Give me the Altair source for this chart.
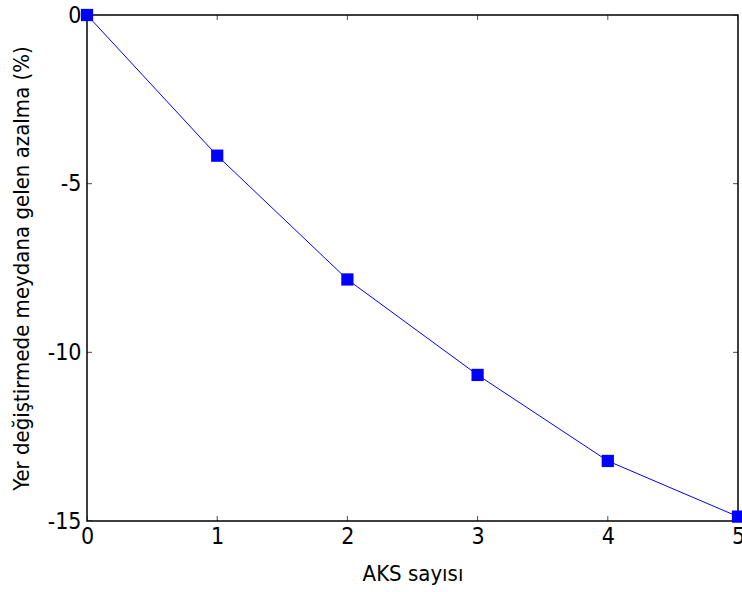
import altair as alt
import pandas as pd

aks = [0, 1, 2, 3, 4, 5]
azalma = [0, -4.17, -7.84, -10.67, -13.22, -14.87]
x_ticks = [0, 1, 2, 3, 4, 5]
y_ticks = [0, -5, -10, -15]

FONT = "DejaVu Sans Condensed"

df = pd.DataFrame({"aks": aks, "azalma": azalma})

xscale = alt.Scale(domain=[0, 5], nice=False, zero=False)
yscale = alt.Scale(domain=[-15, 0], nice=False, zero=False)

xaxis = alt.Axis(values=x_ticks, labelExpr="toString(datum.value)", tickSize=0, domain=False, grid=False,
                 labelFontSize=23, labelPadding=4, labelColor="black", labelFont=FONT,
                 title="AKS sayısı", titleFontSize=22, titleFontWeight="normal",
                 titleFont=FONT, titleColor="black", titleBaseline="alphabetic",
                 titleY=59, labelFlush=False)
yaxis = alt.Axis(values=y_ticks, labelExpr="toString(datum.value)", tickSize=0, domain=False, grid=False,
                 labelFontSize=23, labelPadding=6, labelColor="black", labelFont=FONT,
                 title="Yer değiştirmede meydana gelen azalma (%)", titleFontSize=22,
                 titleFontWeight="normal", titleFont=FONT, titleColor="black",
                 titleBaseline="alphabetic", titleX=-59, titleY=253, titleAngle=-90,
                 titleAlign="center", labelFlush=False)

base = alt.Chart(df)

line = base.mark_line(color="#0000ff", strokeWidth=1).encode(
    x=alt.X("aks:Q", scale=xscale, axis=xaxis),
    y=alt.Y("azalma:Q", scale=yscale, axis=yaxis),
)
pts = base.mark_square(color="#0000ff", size=150, opacity=1).encode(
    x=alt.X("aks:Q", scale=xscale),
    y=alt.Y("azalma:Q", scale=yscale),
)

xt = pd.DataFrame({"v": x_ticks})
yt = pd.DataFrame({"v": y_ticks})

xt_bottom = alt.Chart(xt).mark_tick(orient="vertical", size=10, thickness=1, color="black", clip=True).encode(
    x=alt.X("v:Q", scale=xscale), y=alt.datum(-15))
xt_top = alt.Chart(xt).mark_tick(orient="vertical", size=10, thickness=1, color="black", clip=True).encode(
    x=alt.X("v:Q", scale=xscale), y=alt.datum(0))
yt_left = alt.Chart(yt).mark_tick(orient="horizontal", size=10, thickness=1, color="black", clip=True).encode(
    y=alt.Y("v:Q", scale=yscale), x=alt.datum(0))
yt_right = alt.Chart(yt).mark_tick(orient="horizontal", size=10, thickness=1, color="black", clip=True).encode(
    y=alt.Y("v:Q", scale=yscale), x=alt.datum(5))

chart = alt.layer(xt_bottom, xt_top, yt_left, yt_right, line, pts).properties(
    width=651, height=506,
    background="white",
    padding={"left": 87, "top": 15, "right": 4, "bottom": 71},
    autosize=alt.AutoSizeParams(type="none"),
).configure_view(stroke="black", strokeWidth=1.5)

chart.save("out.html", embed_options={"renderer": "svg", "actions": False})
